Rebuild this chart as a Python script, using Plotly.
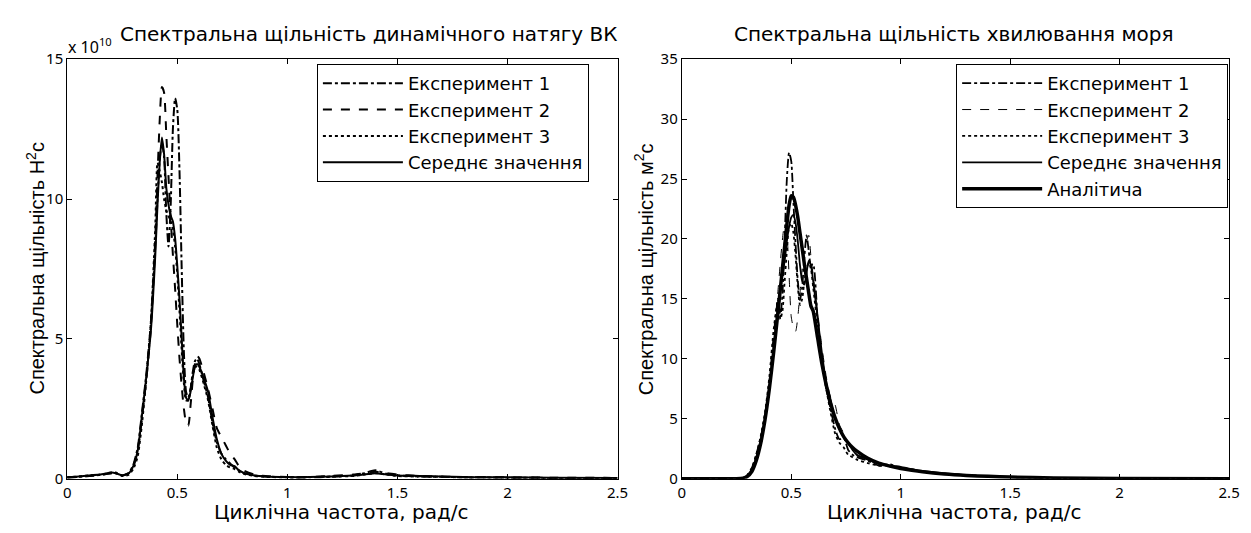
import plotly.graph_objects as go

# ---------------- data: left chart (tension spectral density, x 1e10) ----------------
w_left = [0, 0.05, 0.1, 0.15, 0.2, 0.22, 0.25, 0.28, 0.3, 0.32, 0.34, 0.36, 0.38, 0.40, 0.41,
          0.42, 0.43, 0.44, 0.45, 0.46, 0.47, 0.48, 0.49, 0.50, 0.51, 0.52, 0.53, 0.54, 0.55,
          0.56, 0.57, 0.58, 0.59, 0.60, 0.62, 0.64, 0.66, 0.68, 0.70, 0.72, 0.74, 0.76, 0.78,
          0.80, 0.85, 0.9, 1.0, 1.1, 1.2, 1.3, 1.35, 1.4, 1.45, 1.5, 1.6, 1.7, 1.8, 1.9, 2.0,
          2.2, 2.5]

tens_exp1 = [0.04, 0.07, 0.1, 0.14, 0.2, 0.22, 0.12, 0.22, 0.5, 1.1, 2.4, 3.8, 5.6, 8.3, 10.0,
             11.4, 12.0, 11.5, 9.5, 8.3, 9.8, 12.5, 13.6, 13.2, 11.0, 7.5, 4.5, 3.1, 2.9,
             3.2, 3.8, 4.2, 4.3, 4.1, 3.5, 2.9, 2.0, 1.3, 0.9, 0.7, 0.55, 0.4, 0.3,
             0.2, 0.12, 0.08, 0.05, 0.05, 0.07, 0.12, 0.2, 0.3, 0.18, 0.12, 0.08, 0.07, 0.05, 0.05, 0.04,
             0.03, 0.03]
tens_exp2 = [0.05, 0.07, 0.1, 0.13, 0.2, 0.18, 0.12, 0.2, 0.45, 1.0, 2.2, 3.6, 5.4, 8.6, 10.8,
             12.8, 14.0, 13.8, 12.3, 10.8, 9.3, 8.0, 6.8, 5.5, 4.3, 3.3, 2.5, 2.0, 1.9,
             2.6, 3.5, 4.1, 4.4, 4.3, 3.8, 3.2, 2.5, 1.8, 1.5, 1.2, 0.9, 0.7, 0.45,
             0.3, 0.15, 0.1, 0.06, 0.06, 0.1, 0.15, 0.2, 0.25, 0.2, 0.15, 0.1, 0.08, 0.06, 0.05, 0.05,
             0.04, 0.03]
tens_exp3 = [0.06, 0.08, 0.12, 0.14, 0.22, 0.2, 0.1, 0.15, 0.35, 0.8, 2.0, 3.6, 5.6, 9.0, 11.3,
             11.0, 10.6, 10.0, 9.6, 9.4, 9.2, 8.9, 8.3, 7.3, 6.0, 4.6, 3.4, 2.8, 2.8,
             3.2, 3.7, 4.0, 4.0, 3.9, 3.4, 2.8, 1.9, 1.1, 0.7, 0.5, 0.4, 0.35, 0.25,
             0.18, 0.1, 0.07, 0.05, 0.06, 0.08, 0.1, 0.15, 0.2, 0.15, 0.1, 0.08, 0.07, 0.05, 0.05, 0.04,
             0.03, 0.03]
tens_mean = [0.05, 0.08, 0.12, 0.15, 0.22, 0.2, 0.12, 0.2, 0.45, 1.0, 2.3, 3.7, 5.3, 8.0, 9.8,
             11.3, 12.2, 11.6, 10.4, 9.8, 9.4, 9.2, 8.6, 7.6, 6.4, 5.0, 3.6, 2.9, 2.8,
             3.1, 3.6, 4.0, 4.1, 4.0, 3.6, 3.1, 2.2, 1.4, 0.9, 0.65, 0.5, 0.45, 0.3,
             0.22, 0.12, 0.08, 0.06, 0.06, 0.08, 0.12, 0.15, 0.2, 0.15, 0.12, 0.1, 0.08, 0.06, 0.05, 0.05,
             0.04, 0.03]

# ---------------- data: right chart (sea wave spectral density) ----------------
w_right = [0, 0.1, 0.2, 0.25, 0.28, 0.30, 0.32, 0.34, 0.36, 0.38, 0.40, 0.42, 0.44, 0.45, 0.46,
           0.47, 0.48, 0.49, 0.50, 0.51, 0.52, 0.53, 0.54, 0.55, 0.56, 0.57, 0.58, 0.59, 0.60,
           0.62, 0.64, 0.66, 0.68, 0.70, 0.72, 0.74, 0.76, 0.78, 0.80, 0.85, 0.90, 0.95, 1.0,
           1.05, 1.1, 1.2, 1.3, 1.4, 1.5, 1.7, 2.0, 2.5]

wave_exp1 = [0, 0, 0, 0, 0.05, 0.3, 0.9, 2.0, 3.4, 5.3, 8.0, 12.0, 15.0, 13.5, 15.5,
             20.0, 25.0, 27.2, 26.5, 23.0, 19.5, 16.5, 14.9, 16.0, 18.5, 20.3, 19.0, 17.8, 17.9,
             13.5, 10.0, 7.5, 5.8, 4.2, 3.3, 3.4, 2.4, 2.0, 1.8, 1.5, 1.1, 1.1, 0.9,
             0.8, 0.6, 0.42, 0.3, 0.2, 0.14, 0.07, 0.03, 0.01]
wave_exp2 = [0, 0, 0, 0, 0.05, 0.25, 0.8, 1.8, 3.1, 5.0, 7.8, 11.5, 15.8, 18.0, 20.0,
             21.3, 20.5, 17.0, 13.5, 12.6, 12.3, 13.5, 15.5, 17.5, 19.0, 19.8, 20.3, 18.5, 17.0,
             14.0, 11.0, 8.5, 6.8, 6.2, 4.5, 3.8, 3.0, 2.3, 1.9, 1.6, 1.2, 1.0, 0.9,
             0.75, 0.6, 0.42, 0.3, 0.2, 0.14, 0.07, 0.03, 0.01]
wave_exp3 = [0, 0, 0, 0, 0.05, 0.3, 0.9, 2.0, 3.5, 5.5, 8.5, 12.5, 15.0, 13.3, 14.0,
             16.5, 19.0, 21.0, 21.3, 20.5, 18.5, 16.0, 14.5, 15.0, 16.5, 17.5, 18.0, 17.5, 16.0,
             12.8, 10.0, 7.5, 5.5, 3.8, 3.0, 2.6, 2.0, 1.8, 1.6, 1.3, 1.1, 1.2, 0.9,
             0.7, 0.6, 0.42, 0.3, 0.2, 0.14, 0.07, 0.03, 0.01]
wave_mean = [0, 0, 0, 0, 0.05, 0.3, 0.8, 1.8, 3.2, 5.0, 7.6, 11.0, 14.5, 16.0, 17.0,
             18.2, 19.8, 21.0, 21.8, 22.0, 21.3, 19.8, 17.8, 16.5, 16.2, 17.2, 18.2, 17.8, 16.5,
             13.5, 10.5, 8.0, 6.5, 5.0, 4.2, 3.5, 3.0, 2.4, 2.0, 1.6, 1.3, 1.1, 1.0,
             0.8, 0.65, 0.45, 0.3, 0.2, 0.14, 0.07, 0.03, 0.01]
wave_analytic = [0, 0, 0, 0, 0.05, 0.2, 0.6, 1.5, 2.9, 4.9, 7.5, 10.6, 14.0, 15.8, 17.6,
                 19.4, 21.2, 22.8, 23.6, 23.5, 22.8, 21.8, 20.5, 19.2, 17.9, 16.7, 15.5, 14.4, 14.0,
                 11.8, 9.6, 7.8, 6.3, 5.1, 4.2, 3.5, 3.0, 2.6, 2.3, 1.7, 1.3, 1.05, 0.85,
                 0.7, 0.58, 0.4, 0.28, 0.2, 0.14, 0.07, 0.03, 0.01]

x_ticks = [0, 0.5, 1, 1.5, 2, 2.5]
x_ticktext = ["0", "0.5", "1", "1.5", "2", "2.5"]
left_yticks = [0, 5, 10, 15]
right_yticks = [0, 5, 10, 15, 20, 25, 30, 35]

title_left = "Спектральна щільність динамічного натягу ВК"
title_right = "Спектральна щільність хвилювання моря"
xlabel = "Циклічна частота, рад/с"
ylabel_left = "Спектральна щільність Н<sup>2</sup>с"
ylabel_right = "Спектральна щільність м<sup>2</sup>с"
names = ["Експеримент 1", "Експеримент 2", "Експеримент 3", "Середнє значення", "Аналітича"]

# ---------------- figure ----------------
W, H = 1251, 533
FONT = "Liberation Sans, Arial, sans-serif"
WIDEFONT = "DejaVu Sans, Liberation Sans, sans-serif"
TICKFONT = "Noto Sans, Liberation Sans, sans-serif"

def px_x(p):
    return p / W

def px_y(p):
    return 1 - p / H

fig = go.Figure()

left_styles = [("dashdot", 2), ("dash", 2), ("dot", 2), ("solid", 2)]
for name, ys, (dash, wd) in zip(names[:4], [tens_exp1, tens_exp2, tens_exp3, tens_mean], left_styles):
    fig.add_trace(go.Scatter(x=w_left, y=ys, mode="lines", name=name,
                             line=dict(color="black", width=wd, dash=dash, shape="spline", smoothing=0.6),
                             xaxis="x", yaxis="y", legend="legend"))

right_styles = [("dashdot", 1.8), ("dash", 1), ("dot", 1.8), ("solid", 1.8), ("solid", 3.5)]
for name, ys, (dash, wd) in zip(names, [wave_exp1, wave_exp2, wave_exp3, wave_mean, wave_analytic], right_styles):
    fig.add_trace(go.Scatter(x=w_right, y=ys, mode="lines", name=name,
                             line=dict(color="black", width=wd, dash=dash, shape="spline", smoothing=0.6),
                             xaxis="x2", yaxis="y2", legend="legend2"))

axis_common = dict(showline=True, linecolor="black", linewidth=1, mirror="ticks",
                   ticks="inside", ticklen=5, tickcolor="black", showgrid=False, zeroline=False,
                   tickfont=dict(family=TICKFONT, size=15, color="black"))

legend_common = dict(xanchor="right", yanchor="top", bordercolor="black", borderwidth=1,
                     bgcolor="white", font=dict(family=WIDEFONT, size=18, color="black"),
                     tracegroupgap=0, itemwidth=80)

fig.update_layout(
    width=W, height=H,
    margin=dict(l=0, r=0, t=0, b=0),
    paper_bgcolor="white", plot_bgcolor="white",
    font=dict(family=FONT, color="black"),
    xaxis=dict(domain=[px_x(64), px_x(621)], range=[0, 2.5], tickvals=x_ticks, ticktext=x_ticktext,
               anchor="y", **axis_common),
    yaxis=dict(domain=[px_y(486), px_y(50)], range=[0, 15], tickvals=left_yticks, anchor="x", **axis_common),
    xaxis2=dict(domain=[px_x(686), px_x(1240)], range=[0, 2.5], tickvals=x_ticks, ticktext=x_ticktext,
                anchor="y2", **axis_common),
    yaxis2=dict(domain=[px_y(486), px_y(50)], range=[0, 35], tickvals=right_yticks, anchor="x2", **axis_common),
    legend=dict(x=px_x(592), y=px_y(55), **legend_common),
    legend2=dict(x=px_x(1239), y=px_y(55), **legend_common),
    showlegend=True,
)

ann = [
    dict(text=title_left, x=px_x(369), y=px_y(24), xanchor="center", yanchor="middle",
         font=dict(family=WIDEFONT, size=20)),
    dict(text="x 10<sup>10</sup>", x=px_x(63), y=px_y(36), xanchor="left", yanchor="middle",
         font=dict(family=TICKFONT, size=16)),
    dict(text=title_right, x=px_x(962), y=px_y(24), xanchor="center", yanchor="middle",
         font=dict(family=WIDEFONT, size=20)),
    dict(text=xlabel, x=px_x(342), y=px_y(521), xanchor="center", yanchor="middle",
         font=dict(family=WIDEFONT, size=20)),
    dict(text=xlabel, x=px_x(962), y=px_y(521), xanchor="center", yanchor="middle",
         font=dict(family=WIDEFONT, size=20)),
    dict(text=ylabel_left, x=px_x(32), y=px_y(268), xanchor="center", yanchor="middle",
         textangle=-90, font=dict(size=20)),
    dict(text=ylabel_right, x=px_x(648), y=px_y(268), xanchor="center", yanchor="middle",
         textangle=-90, font=dict(size=20)),
]
for a in ann:
    a.update(xref="paper", yref="paper", showarrow=False)
fig.update_layout(annotations=ann)

fig.write_html("out.html")
